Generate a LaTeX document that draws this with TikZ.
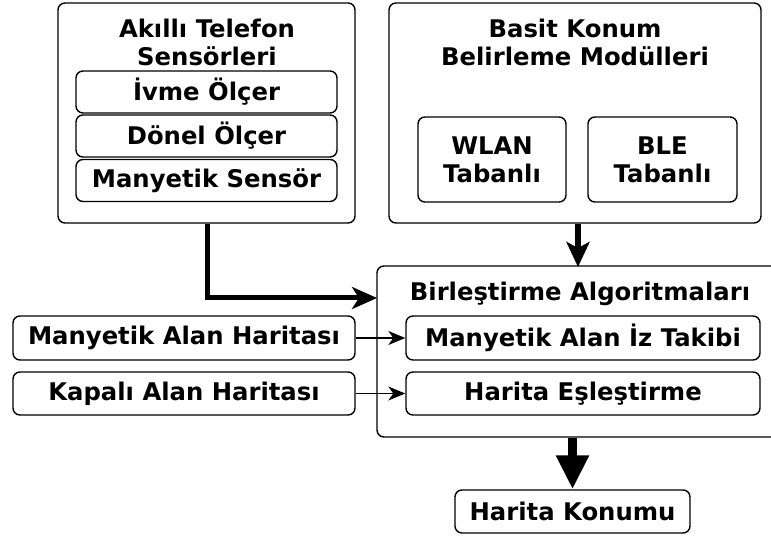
\documentclass[tikz,border=0pt]{standalone}
\usepackage{fontspec}
\setmainfont{DejaVu Sans}
\usetikzlibrary{arrows.meta}
\begin{document}
\begin{tikzpicture}[x=1pt,y=-1pt,
  every node/.style={font=\fontsize{24.3}{28}\selectfont\bfseries, inner sep=0pt, align=center},
  box/.style={draw, line width=1.4pt, rounded corners=7pt},
  group/.style={box},
  label/.style={},
  thinarrow/.style={line width=1.4pt, -{Stealth[length=17pt,width=14pt,inset=5pt]}},
  feedarrow/.style={line width=5pt, -{Stealth[length=25pt,width=22pt,inset=7pt]}},
  modarrow/.style={line width=6pt, -{Stealth[length=25pt,width=23pt,inset=6pt]}},
  outarrow/.style={line width=8.5pt, -{Triangle[length=34pt,width=31pt]}}]
\useasboundingbox (0,0) rectangle (771,537);
\clip (0,0) rectangle (771,537);

% smartphone sensors
\node[group, minimum width=297pt, minimum height=220pt] (sens) at (206.5,113) {};
\node[label] (senst) at (207,42) {Akıllı Telefon\\Sensörleri};
\node[box, minimum width=261pt, minimum height=42pt] (acc) at (206.5,92) {İvme Ölçer};
\node[box, minimum width=261pt, minimum height=42pt] (gyr) at (206.5,136) {Dönel Ölçer};
\node[box, minimum width=261pt, minimum height=42pt] (mag) at (206.5,180.5) {Manyetik Sensör};

% basic positioning modules
\node[group, minimum width=372pt, minimum height=220pt] (basit) at (575,113) {};
\node[label] (basitt) at (575,42) {Basit Konum\\Belirleme Modülleri};
\node[box, minimum width=148pt, minimum height=85pt] (wlan) at (492,159.5) {WLAN\\Tabanlı};
\node[box, minimum width=149pt, minimum height=85pt] (ble) at (662.5,159.5) {BLE\\Tabanlı};

% fusion algorithms
\node[group, minimum width=413pt, minimum height=171pt] (fus) at (583.5,351.5) {};
\node[label] (fust) at (580,294) {Birleştirme Algoritmaları};
\node[box, minimum width=354pt, minimum height=44pt] (trace) at (583,338) {Manyetik Alan İz Takibi};
\node[box, minimum width=354pt, minimum height=43pt] (match) at (583,393.5) {Harita Eşleştirme};

% maps
\node[box, minimum width=342pt, minimum height=44pt] (magmap) at (184,338) {Manyetik Alan Haritası};
\node[box, minimum width=342pt, minimum height=43pt] (indoor) at (184,393.5) {Kapalı Alan Haritası};

% output
\node[box, minimum width=235pt, minimum height=43pt] (out) at (572.5,511.5) {Harita Konumu};

% connectors
\coordinate (fusin) at (377,298);
\draw[feedarrow] (sens.south -| 207,0) |- (fusin);
\draw[modarrow] (basit.south -| 578,0) -- (578,267);
\draw[thinarrow] (magmap.east) -- (trace.west);
\draw[thinarrow] (indoor.east) -- (match.west);
\draw[outarrow] (fus.south -| out.north) -- (out.north);
\end{tikzpicture}
\end{document}
